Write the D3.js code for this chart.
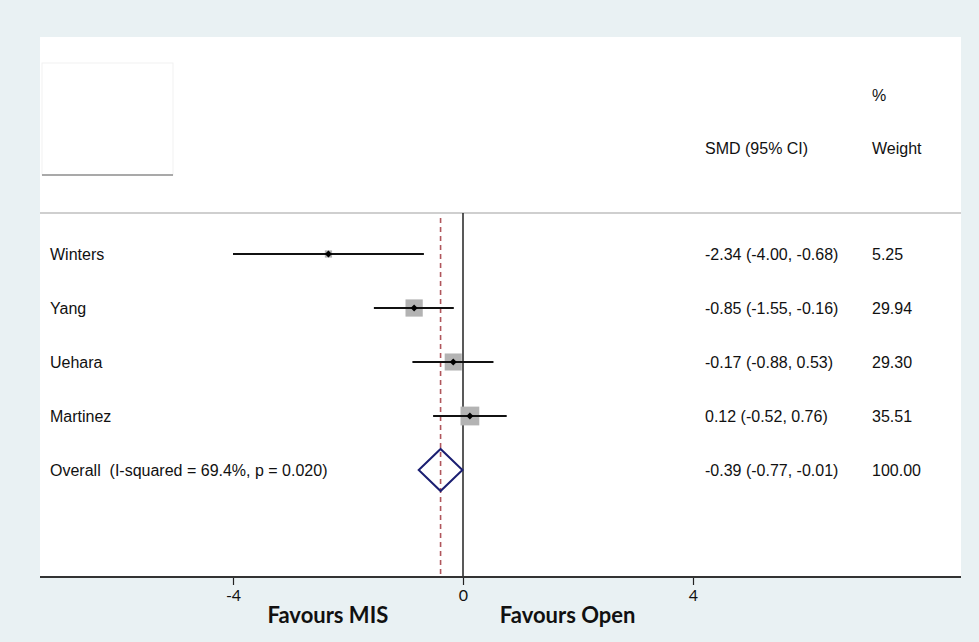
<!DOCTYPE html>
<html>
<head>
<meta charset="utf-8">
<script src="https://cdn.jsdelivr.net/npm/d3@7"></script>
<style>
  html, body { margin: 0; padding: 0; background: #e9f1f3; }
  svg { display: block; }
  .row-label, .col-text { font-family: "Liberation Sans", Arial, sans-serif; font-size: 16px; fill: #111; white-space: pre; }
  .axis text { font-family: Lato, sans-serif; font-size: 16px; fill: #111; }
  .favours { font-family: Lato, sans-serif; font-size: 22px; font-weight: bold; fill: #111; }
</style>
</head>
<body>
<div id="chart"></div>
<script>
// studies (top to bottom)
const studies = ['Winters', 'Yang', 'Uehara', 'Martinez'];
const smd     = [-2.34, -0.85, -0.17, 0.12];
const ciLow   = [-4.00, -1.55, -0.88, -0.52];
const ciHigh  = [-0.68, -0.16, 0.53, 0.76];
const weights = [5.25, 29.94, 29.30, 35.51];

// pooled estimate
const overallLabel = 'Overall  (I-squared = 69.4%, p = 0.020)';
const overall = { smd: -0.39, low: -0.77, high: -0.01, weight: 100.00 };

const xTicks = [-4, 0, 4];
const favoursText = ['Favours MIS', 'Favours Open'];

const config = {
  width: 979, height: 642,
  panel: { left: 40, right: 961, top: 37, bottom: 577 },
  rowTop: 254, rowStep: 54,
  labelX: 50, ciTextX: 705, weightX: 872,
  sepY: 213,
  squareScale: 3.15,   // px per sqrt(weight)
};

const svg = d3.select('#chart').append('svg')
  .attr('width', config.width)
  .attr('height', config.height);

const p = config.panel;

// white plot panel
svg.append('rect')
  .attr('x', p.left).attr('y', p.top)
  .attr('width', p.right - p.left).attr('height', p.bottom - p.top)
  .attr('fill', '#ffffff');

// empty legend box top-left
svg.append('rect')
  .attr('x', 42).attr('y', 63).attr('width', 131).attr('height', 112)
  .attr('fill', '#fff').attr('stroke', '#f1f1f1').attr('stroke-width', 1);
svg.append('line')
  .attr('x1', 42).attr('x2', 173).attr('y1', 175).attr('y2', 175)
  .attr('stroke', '#a9a9a9').attr('stroke-width', 2);

// scales
const xScale = d3.scaleLinear()
  .domain([(p.left - 463) / 57.5, (p.right - 463) / 57.5])
  .range([p.left, p.right]);

const rowY = d => config.rowTop + d * config.rowStep;

// hyphen-minus like the original output
const fmt = v => d3.format('.2f')(v).replace('\u2212', '-');
const fmtCi = d => `${fmt(d.smd)} (${fmt(d.low)}, ${fmt(d.high)})`;

// header
svg.append('text').attr('class', 'col-text')
  .attr('x', config.weightX).attr('y', 101).text('%');
svg.append('text').attr('class', 'col-text')
  .attr('x', config.ciTextX).attr('y', 154).text('SMD (95% CI)');
svg.append('text').attr('class', 'col-text')
  .attr('x', config.weightX).attr('y', 154).text('Weight');

// separator
svg.append('line')
  .attr('x1', p.left).attr('x2', p.right)
  .attr('y1', config.sepY).attr('y2', config.sepY)
  .attr('stroke', '#cfcfcf').attr('stroke-width', 2);

// null line
svg.append('line')
  .attr('x1', xScale(0)).attr('x2', xScale(0))
  .attr('y1', config.sepY).attr('y2', p.bottom)
  .attr('stroke', '#222').attr('stroke-width', 1.5);

// overall effect dashed line
svg.append('line')
  .attr('x1', xScale(overall.smd)).attr('x2', xScale(overall.smd))
  .attr('y1', 218).attr('y2', p.bottom)
  .attr('stroke', '#b0565c').attr('stroke-width', 1.6)
  .attr('stroke-dasharray', '5,4');

const rows = studies.map((name, i) => ({
  name, smd: smd[i], low: ciLow[i], high: ciHigh[i], weight: weights[i]
}));

const g = svg.append('g').attr('class', 'rows');

// weight squares
g.selectAll('rect.weight').data(rows).join('rect')
  .attr('class', 'weight')
  .attr('x', d => xScale(d.smd) - Math.sqrt(d.weight) * config.squareScale / 2)
  .attr('y', (d, i) => rowY(i) - Math.sqrt(d.weight) * config.squareScale / 2)
  .attr('width', d => Math.sqrt(d.weight) * config.squareScale)
  .attr('height', d => Math.sqrt(d.weight) * config.squareScale)
  .attr('fill', '#b3b3b3');

// CI lines
g.selectAll('line.ci').data(rows).join('line')
  .attr('class', 'ci')
  .attr('x1', d => xScale(d.low)).attr('x2', d => xScale(d.high))
  .attr('y1', (d, i) => rowY(i)).attr('y2', (d, i) => rowY(i))
  .attr('stroke', '#111').attr('stroke-width', 2);

// point estimate diamonds
g.selectAll('path.pt').data(rows).join('path')
  .attr('class', 'pt')
  .attr('d', (d, i) => {
    const x = xScale(d.smd), y = rowY(i), r = 3.5;
    return `M${x - r},${y}L${x},${y - r}L${x + r},${y}L${x},${y + r}Z`;
  })
  .attr('fill', '#000');

// labels & columns
g.selectAll('text.row-label').data(rows).join('text')
  .attr('class', 'row-label')
  .attr('x', config.labelX).attr('y', (d, i) => rowY(i) + 6)
  .text(d => d.name);
g.selectAll('text.ci-text').data(rows).join('text')
  .attr('class', 'col-text ci-text')
  .attr('x', config.ciTextX).attr('y', (d, i) => rowY(i) + 6)
  .text(fmtCi);
g.selectAll('text.w-text').data(rows).join('text')
  .attr('class', 'col-text w-text')
  .attr('x', config.weightX).attr('y', (d, i) => rowY(i) + 6)
  .text(d => fmt(d.weight));

// overall row
const oy = rowY(rows.length);
const halfH = 21;
svg.append('path')
  .attr('d', `M${xScale(overall.low)},${oy}L${xScale(overall.smd)},${oy - halfH}L${xScale(overall.high)},${oy}L${xScale(overall.smd)},${oy + halfH}Z`)
  .attr('fill', 'none').attr('stroke', '#1b1f72').attr('stroke-width', 2);
svg.append('text').attr('class', 'row-label')
  .attr('x', config.labelX).attr('y', oy + 6).text(overallLabel);
svg.append('text').attr('class', 'col-text')
  .attr('x', config.ciTextX).attr('y', oy + 6).text(fmtCi(overall));
svg.append('text').attr('class', 'col-text')
  .attr('x', config.weightX).attr('y', oy + 6).text(fmt(overall.weight));

// x axis
const xAxis = svg.append('g')
  .attr('class', 'axis')
  .attr('transform', `translate(0,${p.bottom})`)
  .call(d3.axisBottom(xScale).tickValues(xTicks).tickSize(8).tickPadding(5)
    .tickFormat(d => String(d)));
xAxis.select('.domain').remove();
xAxis.selectAll('.tick line').attr('stroke', '#222').attr('stroke-width', 1.2);
svg.append('line')
  .attr('x1', p.left).attr('x2', p.right)
  .attr('y1', p.bottom).attr('y2', p.bottom)
  .attr('stroke', '#333').attr('stroke-width', 2);

// favours labels
svg.append('text').attr('class', 'favours')
  .attr('x', xScale(-2.35)).attr('y', 623).attr('text-anchor', 'middle')
  .text(favoursText[0]);
svg.append('text').attr('class', 'favours')
  .attr('x', xScale(1.82)).attr('y', 623).attr('text-anchor', 'middle')
  .text(favoursText[1]);
</script>
</body>
</html>
